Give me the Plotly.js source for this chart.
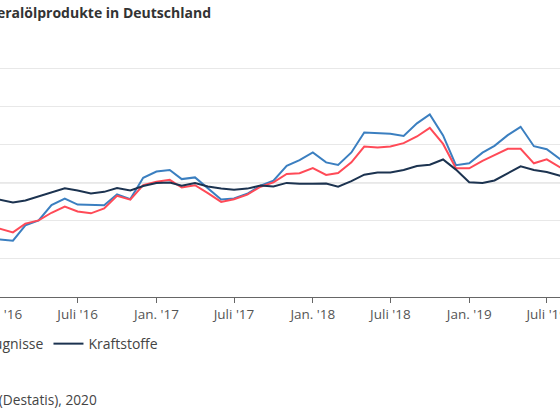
<!DOCTYPE html>
<html>
<head>
<meta charset="utf-8">
<script src="https://cdn.plot.ly/plotly-3.0.1.min.js"></script>
<style>
  html, body { margin: 0; padding: 0; overflow: hidden; background: #fff; }
  #chart { position: absolute; left: -300px; top: 0; width: 970px; height: 416px; }
</style>
</head>
<body>
<div id="chart"></div>
<script>
// Monthly index values (2015 = 100)
const months = [
  '2016-01-01','2016-02-01','2016-03-01','2016-04-01','2016-05-01','2016-06-01',
  '2016-07-01','2016-08-01','2016-09-01','2016-10-01','2016-11-01','2016-12-01',
  '2017-01-01','2017-02-01','2017-03-01','2017-04-01','2017-05-01','2017-06-01',
  '2017-07-01','2017-08-01','2017-09-01','2017-10-01','2017-11-01','2017-12-01',
  '2018-01-01','2018-02-01','2018-03-01','2018-04-01','2018-05-01','2018-06-01',
  '2018-07-01','2018-08-01','2018-09-01','2018-10-01','2018-11-01','2018-12-01',
  '2019-01-01','2019-02-01','2019-03-01','2019-04-01','2019-05-01','2019-06-01',
  '2019-07-01','2019-08-01','2019-09-01'
];

const heizoel = [
  70.2, 69.6, 77.7, 80.3, 88.3, 91.8, 88.6, 88.5, 88.2, 94.0, 91.5, 102.7,
  106.0, 106.8, 102.0, 102.9, 97.2, 91.3, 91.8, 94.3, 98.5, 101.2, 109.0, 112.0,
  116.0, 110.8, 109.4, 116.0, 126.5, 126.1, 125.9, 124.7, 131.3, 136.0, 125.0, 109.3,
  110.3, 115.9, 119.5, 125.1, 129.5, 119.3, 117.7, 112.5, 111.0
];

const mineraloel = [
  75.9, 74.0, 78.6, 80.3, 84.3, 87.6, 85.0, 84.0, 86.6, 93.2, 91.2, 98.8,
  100.6, 101.6, 97.6, 98.8, 94.6, 90.0, 91.4, 93.8, 98.0, 100.3, 104.7, 105.1,
  107.8, 104.2, 105.2, 110.8, 119.1, 118.6, 119.1, 120.9, 124.4, 128.9, 120.5, 107.7,
  107.7, 111.6, 114.6, 117.9, 117.9, 110.3, 112.4, 108.2, 107.0
];

const kraftstoffe = [
  91.2, 89.7, 90.8, 93.0, 95.0, 97.2, 96.0, 94.4, 95.3, 97.3, 96.0, 98.4,
  99.9, 100.2, 98.5, 99.9, 98.1, 97.0, 96.4, 97.0, 98.6, 98.1, 100.0, 99.5,
  99.5, 99.7, 98.0, 100.9, 104.3, 105.5, 105.5, 106.8, 108.9, 109.6, 112.3, 107.0,
  100.3, 99.9, 101.3, 105.0, 108.7, 106.8, 105.7, 103.8, 102.5
];

const tickVals = ['2015-01-01','2015-07-01','2016-01-01','2016-07-01','2017-01-01','2017-07-01',
                  '2018-01-01','2018-07-01','2019-01-01','2019-07-01','2020-01-01'];
const tickText = ["Jan. '15","Juli '15","Jan. '16","Juli '16","Jan. '17","Juli '17",
                  "Jan. '18","Juli '18","Jan. '19","Juli '19","Jan. '20"];
const yTicks = [40, 60, 80, 100, 120, 140, 160];

const font = 'Open Sans, Noto Sans, sans-serif';

// the page shows only a window of a wider chart, so the figure is wider than the page
const W = 970, H = 416, L = 130, R = 20, T = 64.5, B = 118.7;
const plotW = W - L - R, plotH = H - T - B;
const px = v => (v - L) / plotW;          // div x -> paper x
const py = v => (H - B - v) / plotH;      // div y -> paper y

const traces = [
  { x: months, y: heizoel, name: 'Heizöl', type: 'scatter', mode: 'lines',
    line: { color: '#3b7fc0', width: 2 } },
  { x: months, y: mineraloel, name: 'Mineralölerzeugnisse', type: 'scatter', mode: 'lines',
    line: { color: '#ff4a57', width: 2 } },
  { x: months, y: kraftstoffe, name: 'Kraftstoffe', type: 'scatter', mode: 'lines',
    line: { color: '#1c3350', width: 2 } }
];

const layout = {
  width: W,
  height: H,
  margin: { l: L, r: R, t: T, b: B },
  paper_bgcolor: '#fff',
  plot_bgcolor: '#fff',
  font: { family: font, size: 13, color: '#444' },
  title: {
    text: '<b>Verbraucherpreise für Mineralölprodukte in Deutschland</b>',
    font: { family: font, size: 14, color: '#333' },
    xref: 'container', x: 511 / W, xanchor: 'right',
    yref: 'container', y: 1 - 13 / H, yanchor: 'middle'
  },
  showlegend: true,
  legend: {
    orientation: 'h',
    x: px(463), xanchor: 'right',
    y: py(344.5), yanchor: 'middle',
    font: { family: font, size: 14, color: '#444' },
    itemwidth: 30
  },
  xaxis: {
    type: 'date',
    range: ['2014-12-01', '2020-02-27'],
    tickvals: tickVals,
    ticktext: tickText,
    showgrid: false,
    zeroline: false,
    showline: true,
    linecolor: '#666',
    linewidth: 1,
    ticks: 'outside',
    ticklen: 5,
    tickcolor: '#666',
    tickfont: { family: font, size: 13.5, color: '#555' }
  },
  yaxis: {
    range: [40, 162],
    tickvals: yTicks,
    showgrid: true,
    gridcolor: '#e8e8e8',
    zeroline: false,
    showline: false,
    tickfont: { family: font, size: 13.5, color: '#555' }
  },
  shapes: [
    { type: 'line', xref: 'paper', x0: 0, x1: 1, yref: 'y', y0: 100, y1: 100,
      line: { color: '#cfcfcf', width: 1 }, layer: 'below' }
  ],
  annotations: [
    { text: 'Quelle: Statistisches Bundesamt (Destatis), 2020',
      xref: 'paper', x: px(398.5), xanchor: 'right',
      yref: 'paper', y: py(400), yanchor: 'middle',
      showarrow: false, font: { family: font, size: 13.7, color: '#444' } }
  ]
};

Plotly.newPlot('chart', traces, layout, { displayModeBar: false, staticPlot: true });
</script>
</body>
</html>
